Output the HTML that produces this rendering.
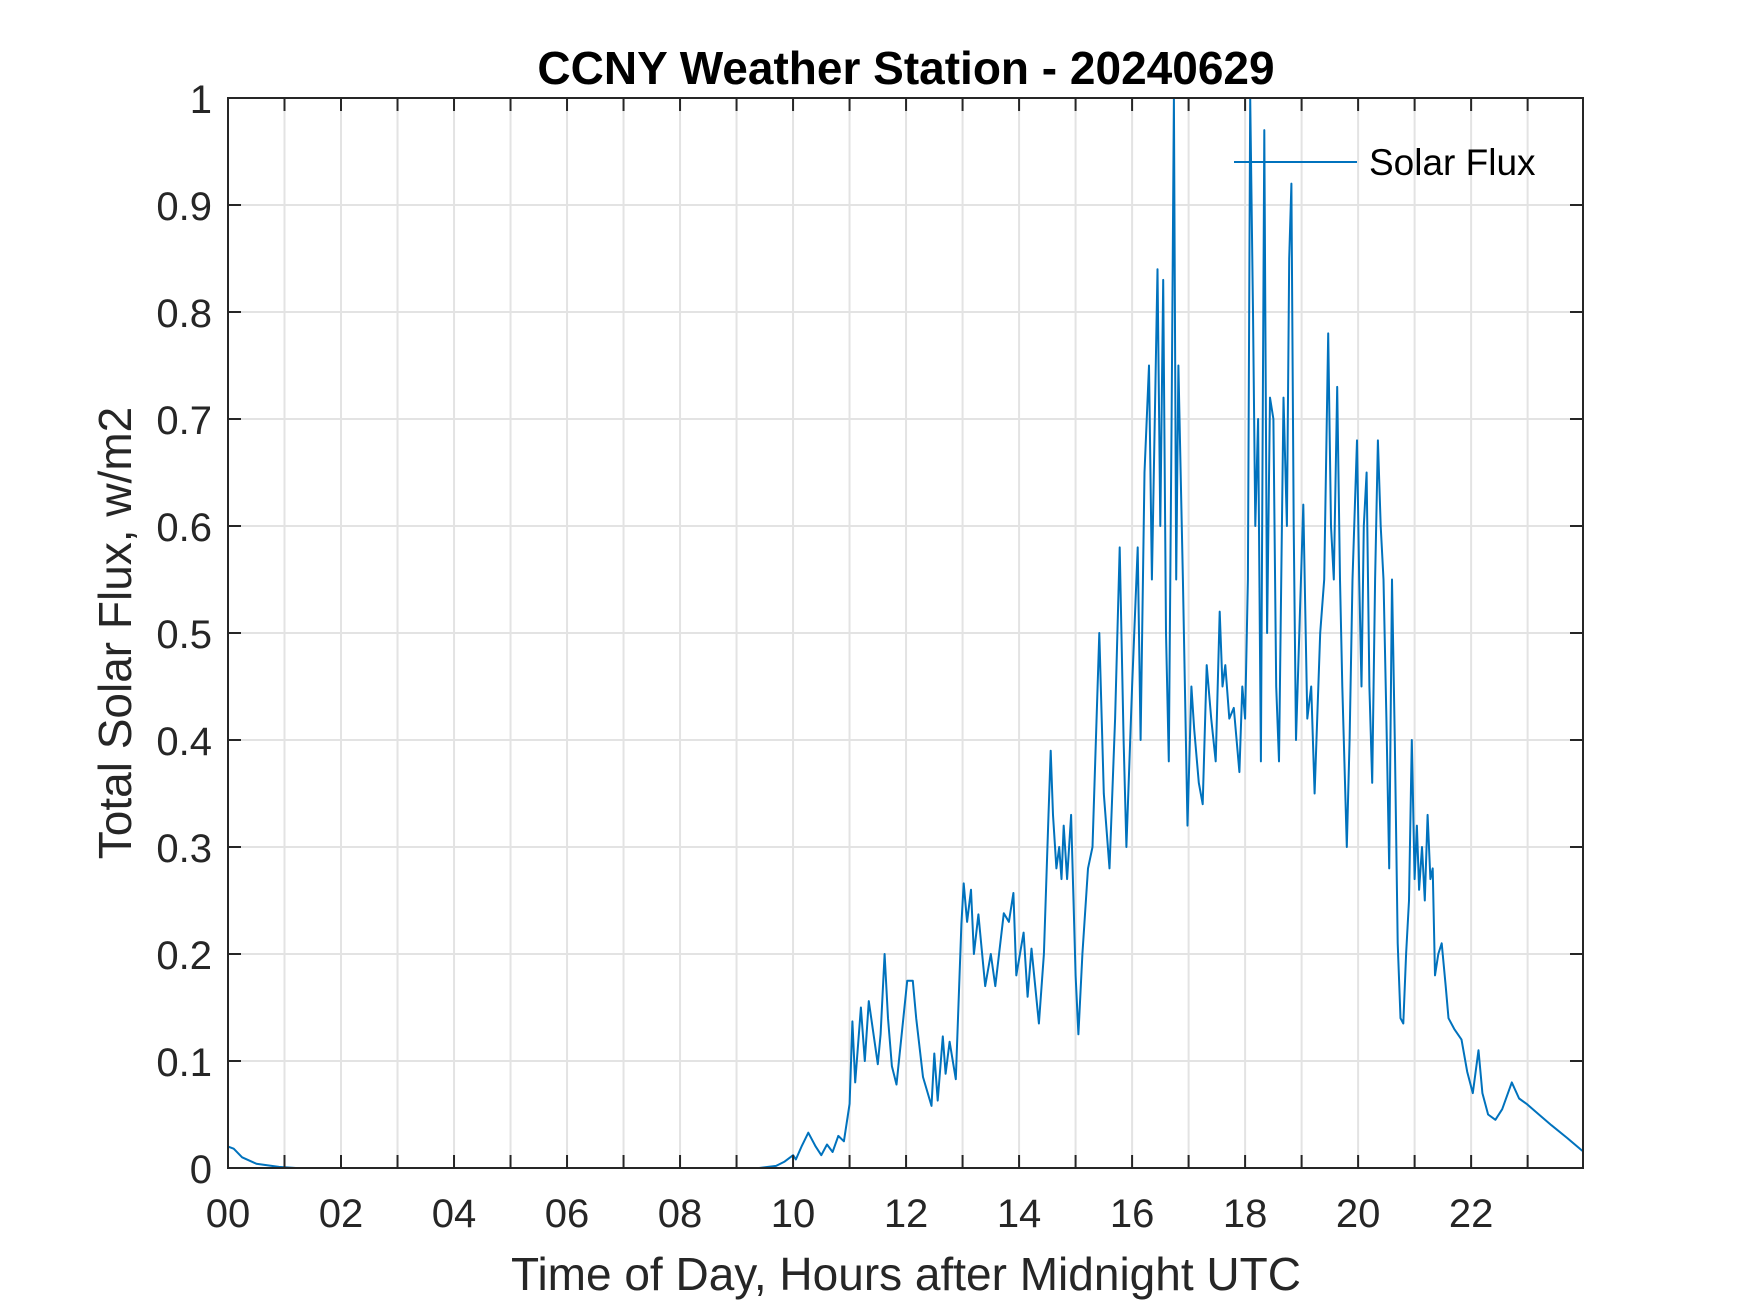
<!DOCTYPE html>
<html><head><meta charset="utf-8"><style>
html,body{margin:0;padding:0;background:#fff;}
svg{display:block;font-family:"Liberation Sans",Arial,sans-serif;}
</style></head><body>
<svg id="chart" width="1750" height="1313" viewBox="0 0 1750 1313" xmlns="http://www.w3.org/2000/svg">
<rect width="1750" height="1313" fill="#fff"/>
<g id="grid"></g>
<g id="series"></g>
<g id="axes"></g>
<text x="906" y="84" text-anchor="middle" font-size="46" font-weight="bold" fill="#000">CCNY Weather Station - 20240629</text>
<text x="906" y="1290" text-anchor="middle" font-size="46" fill="#262626">Time of Day, Hours after Midnight UTC</text>
<text transform="translate(131,633) rotate(-90)" text-anchor="middle" font-size="46" fill="#262626">Total Solar Flux, w/m2</text>
<g>
<line x1="1234" y1="162" x2="1357" y2="162" stroke="#0072BD" stroke-width="2"/>
<text x="1369" y="175" font-size="37" fill="#000">Solar Flux</text>
</g>
</svg>
<script>
const hours = [0,0.1,0.25,0.5,0.9,1.2,9.4,9.7,9.85,10.0,10.05,10.15,10.27,10.4,10.5,10.6,10.7,10.8,10.9,11.0,11.05,11.1,11.2,11.27,11.34,11.5,11.55,11.62,11.68,11.75,11.83,12.02,12.12,12.18,12.3,12.45,12.5,12.56,12.65,12.7,12.77,12.88,12.98,13.02,13.08,13.15,13.2,13.28,13.4,13.5,13.58,13.73,13.82,13.9,13.95,14.08,14.15,14.22,14.35,14.44,14.52,14.56,14.6,14.66,14.71,14.75,14.79,14.85,14.92,15.0,15.05,15.12,15.22,15.3,15.42,15.5,15.6,15.7,15.78,15.85,15.9,16.0,16.1,16.15,16.22,16.3,16.35,16.45,16.5,16.55,16.6,16.65,16.7,16.74,16.78,16.82,16.9,16.98,17.05,17.1,17.18,17.25,17.32,17.4,17.48,17.55,17.6,17.65,17.72,17.8,17.9,17.95,18.0,18.05,18.09,18.14,18.18,18.23,18.28,18.34,18.39,18.44,18.5,18.55,18.6,18.68,18.74,18.78,18.82,18.86,18.9,18.96,19.03,19.1,19.17,19.23,19.33,19.4,19.47,19.52,19.57,19.63,19.68,19.72,19.8,19.85,19.9,19.98,20.02,20.06,20.1,20.15,20.2,20.25,20.3,20.35,20.4,20.45,20.5,20.55,20.6,20.65,20.7,20.75,20.8,20.85,20.9,20.95,21.0,21.04,21.08,21.13,21.18,21.23,21.28,21.32,21.36,21.42,21.48,21.55,21.6,21.7,21.83,21.93,22.03,22.13,22.2,22.3,22.43,22.55,22.72,22.85,22.98,23.2,23.42,23.7,23.97];
const flux = [0.02,0.018,0.01,0.004,0.001,0,0,0.002,0.006,0.012,0.008,0.02,0.033,0.02,0.012,0.022,0.015,0.03,0.025,0.06,0.137,0.08,0.15,0.10,0.156,0.097,0.125,0.2,0.14,0.095,0.078,0.175,0.175,0.14,0.085,0.058,0.107,0.063,0.123,0.088,0.118,0.083,0.228,0.266,0.23,0.26,0.2,0.237,0.17,0.2,0.17,0.238,0.23,0.257,0.18,0.22,0.16,0.205,0.135,0.2,0.33,0.39,0.33,0.28,0.3,0.27,0.32,0.27,0.33,0.18,0.125,0.2,0.28,0.3,0.5,0.35,0.28,0.42,0.58,0.4,0.3,0.45,0.58,0.4,0.65,0.75,0.55,0.84,0.6,0.83,0.5,0.38,0.7,1.0,0.55,0.75,0.55,0.32,0.45,0.41,0.36,0.34,0.47,0.42,0.38,0.52,0.45,0.47,0.42,0.43,0.37,0.45,0.42,0.55,1.0,0.8,0.6,0.7,0.38,0.97,0.5,0.72,0.7,0.45,0.38,0.72,0.6,0.85,0.92,0.6,0.4,0.5,0.62,0.42,0.45,0.35,0.5,0.55,0.78,0.6,0.55,0.73,0.55,0.45,0.3,0.4,0.55,0.68,0.55,0.45,0.6,0.65,0.45,0.36,0.55,0.68,0.6,0.55,0.42,0.28,0.55,0.4,0.21,0.14,0.135,0.2,0.25,0.4,0.27,0.32,0.26,0.3,0.25,0.33,0.27,0.28,0.18,0.2,0.21,0.17,0.14,0.13,0.12,0.09,0.07,0.11,0.07,0.05,0.045,0.055,0.08,0.065,0.06,0.05,0.04,0.028,0.016];
const xTicks = [0,2,4,6,8,10,12,14,16,18,20,22];
const xTickLabels = ["00","02","04","06","08","10","12","14","16","18","20","22"];
const yTicks = [0,0.1,0.2,0.3,0.4,0.5,0.6,0.7,0.8,0.9,1];
const yTickLabels = ["0","0.1","0.2","0.3","0.4","0.5","0.6","0.7","0.8","0.9","1"];

const L=228,R=1583,T=98,B=1168,XMAX=23.98;
const sx=h=>L+(h/XMAX)*(R-L);
const sy=v=>B-(v)*(B-T);
const NS="http://www.w3.org/2000/svg";
function mk(tag,attrs,parent){const e=document.createElementNS(NS,tag);for(const k in attrs)e.setAttribute(k,attrs[k]);parent.appendChild(e);return e;}
const grid=document.getElementById('grid'),axes=document.getElementById('axes'),series=document.getElementById('series');
for(let h=1;h<24;h++){
  const g=mk('line',{x1:sx(h),x2:sx(h),y1:T,y2:B,stroke:'#e3e3e3','stroke-width':2},grid);
  
  
  for(const [a,b] of [[B,B-13],[T,T+13]]){
    const t=mk('line',{x1:sx(h),x2:sx(h),y1:a,y2:b,stroke:'#262626','stroke-width':2},axes);
    
    
  }
}
yTicks.forEach((v,i)=>{
  if(v>0&&v<1){
    const g=mk('line',{x1:L,x2:R,y1:sy(v),y2:sy(v),stroke:'#e3e3e3','stroke-width':2},grid);
    
    
    for(const [a,b] of [[L,L+13],[R,R-13]]){
      const t=mk('line',{x1:a,x2:b,y1:sy(v),y2:sy(v),stroke:'#262626','stroke-width':2},axes);
      
      
    }
  }
  const lbl=mk('text',{x:L-16,y:sy(v)+15,'text-anchor':'end','font-size':40,fill:'#262626'},axes);
  lbl.textContent=yTickLabels[i];
  
  
});
xTicks.forEach((h,i)=>{
  const lbl=mk('text',{x:sx(h),y:B+59,'text-anchor':'middle','font-size':40,fill:'#262626'},axes);
  lbl.textContent=xTickLabels[i];
  
  
});
const box=mk('rect',{x:L,y:T,width:R-L,height:B-T,fill:'none',stroke:'#262626','stroke-width':2},axes);


const pts=hours.map((h,i)=>sx(h).toFixed(1)+','+sy(flux[i]).toFixed(1)).join(' ');
const line=mk('polyline',{points:pts,fill:'none',stroke:'#0072BD','stroke-width':2,'stroke-linejoin':'round'},series);


</script>
</body></html>
